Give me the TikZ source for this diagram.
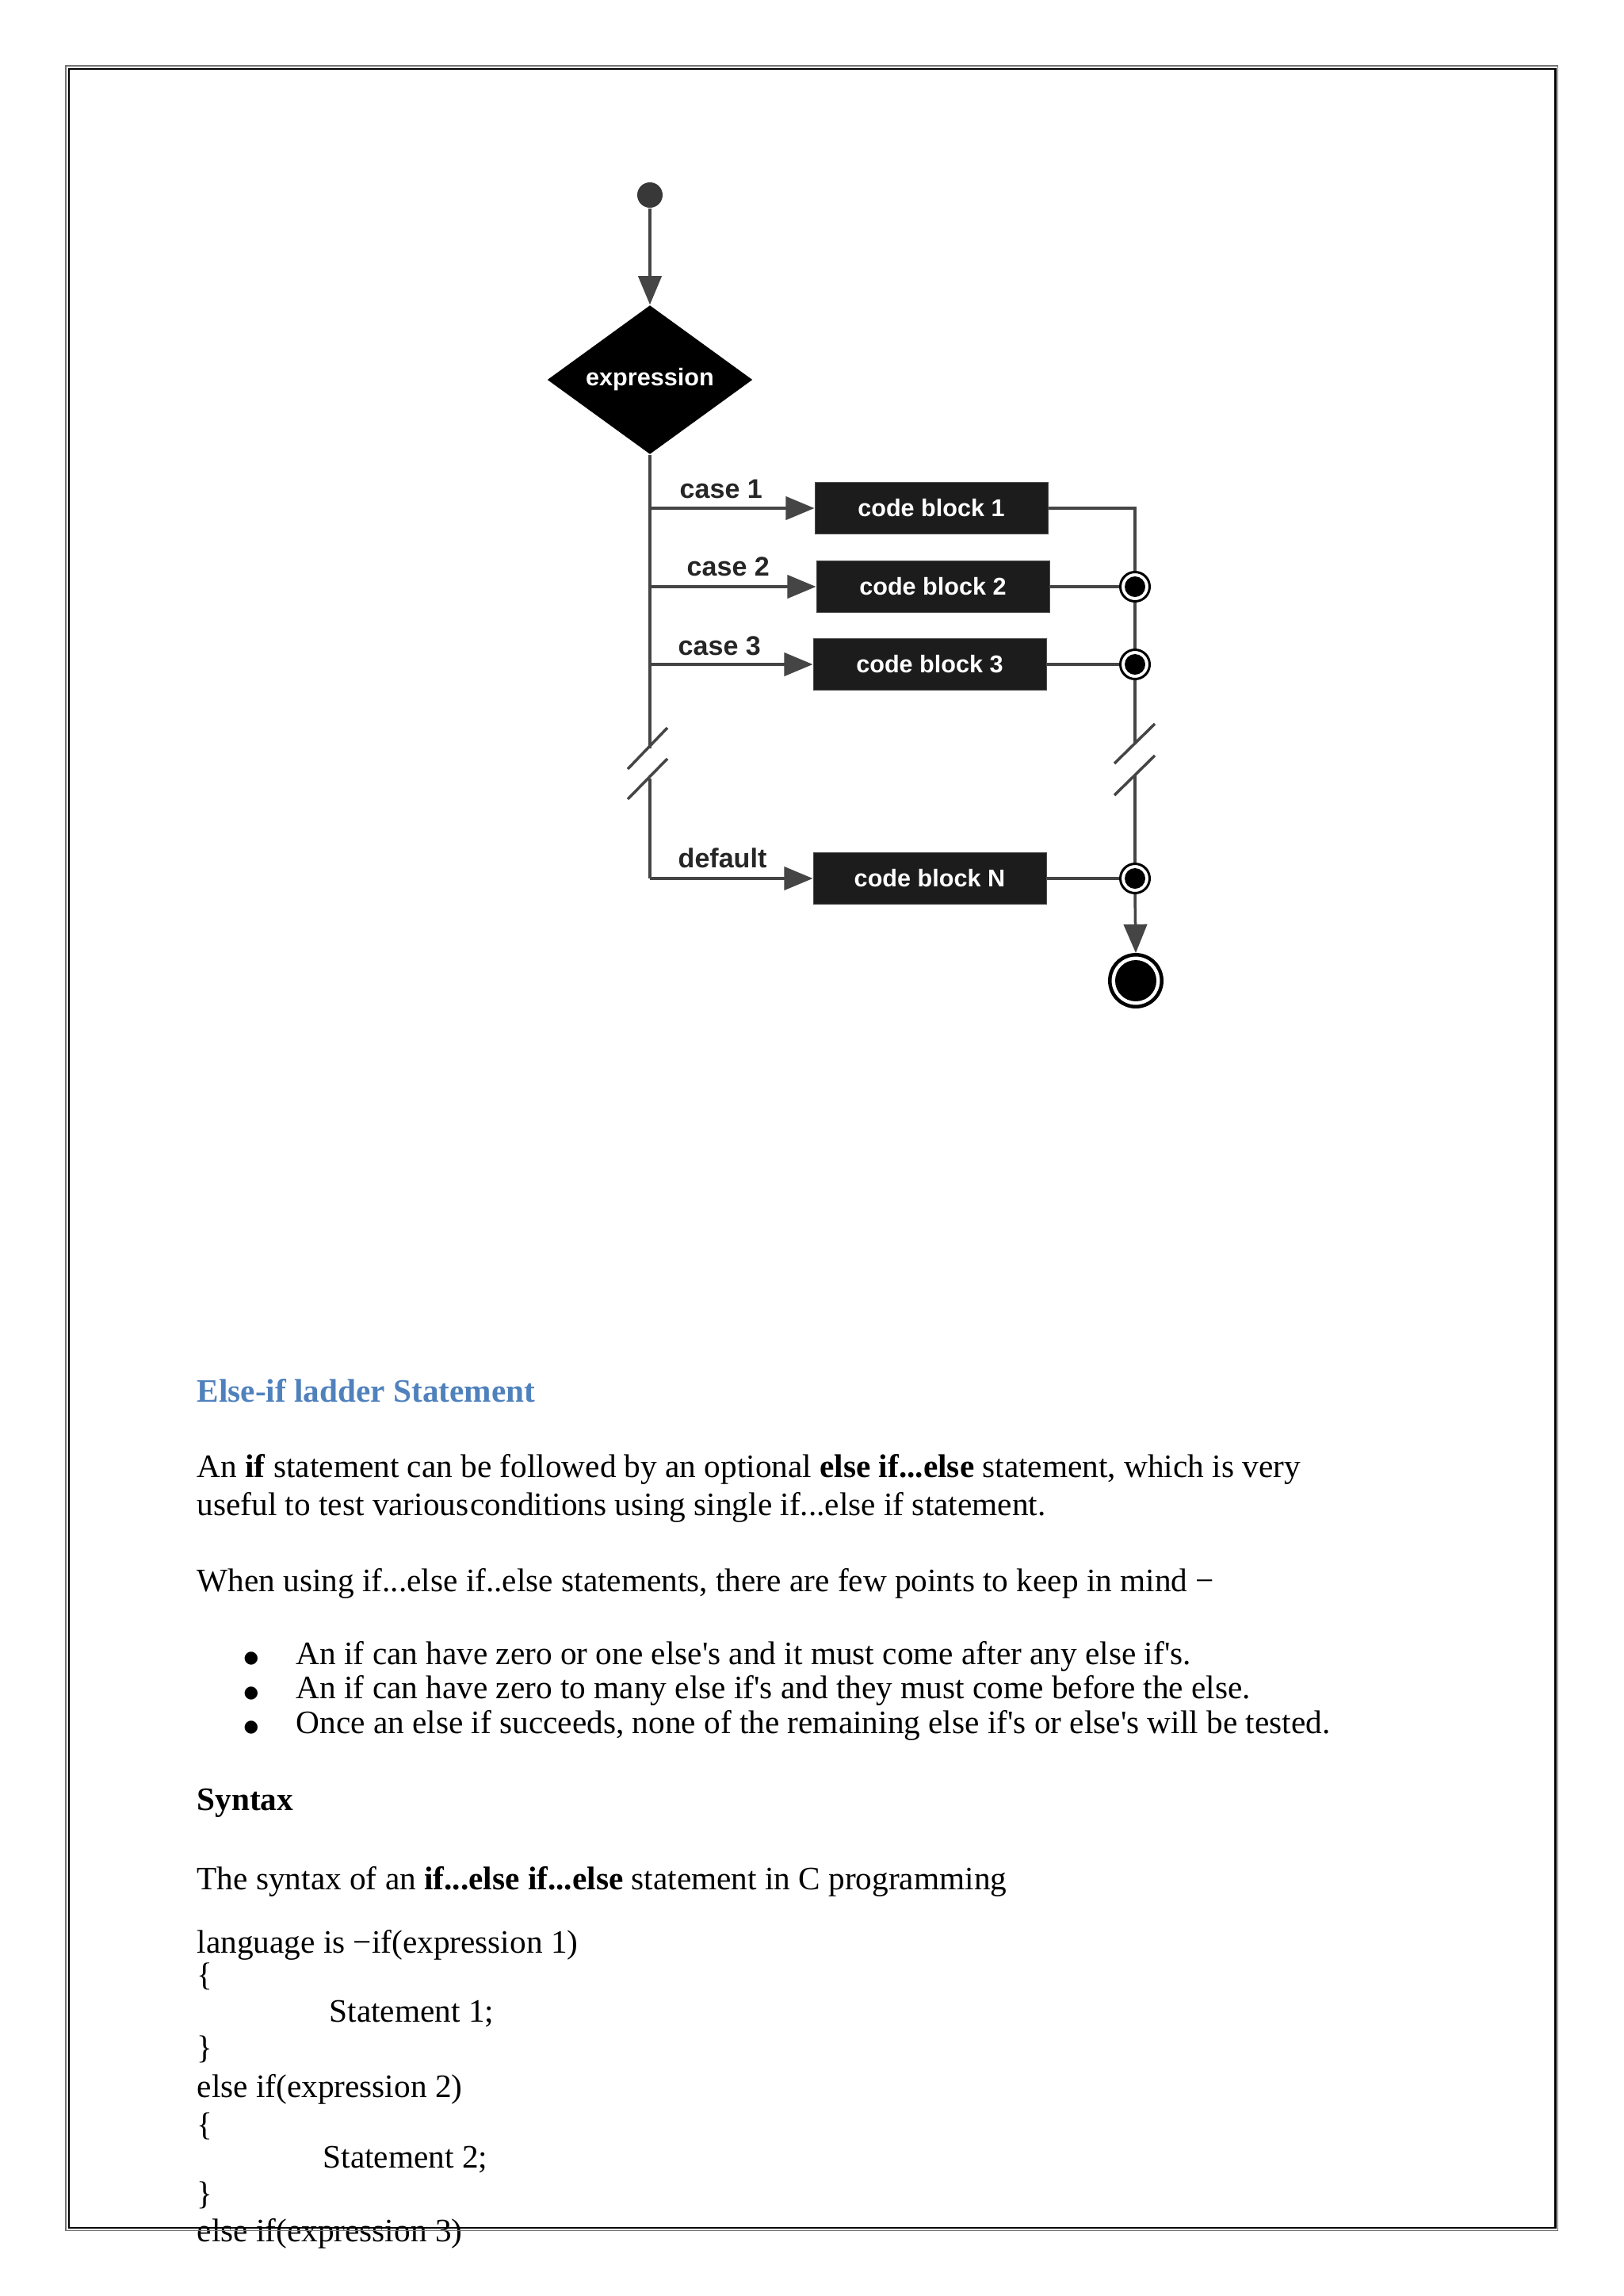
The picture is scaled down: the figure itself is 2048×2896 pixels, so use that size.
\documentclass[tikz,border=0pt]{standalone}
\usepackage{fontspec}
\setmainfont{Liberation Serif}[Ligatures=TeXOff]
\newfontfamily\arialf{Liberation Sans}
\newfontfamily\dejavuf{DejaVu Sans}
\usetikzlibrary{arrows.meta,shapes.geometric}
\newdimen\upx
\upx=0.290662pt
\definecolor{linegray}{HTML}{454545}
\definecolor{headblue}{HTML}{4F81BD}
\definecolor{boxfill}{HTML}{1C1C1C}
\definecolor{lblcol}{HTML}{262626}
\begin{document}
\begin{tikzpicture}[x=0.290662pt,y=-0.290662pt,
  conn/.style={draw=linegray, line width=3.5\upx},
  arr/.style={conn, -{Triangle[length=10.5pt,width=8.5pt]}, color=linegray},
  cblock/.style={rectangle, fill=boxfill, draw=black!70, line width=1\upx,
    minimum width=294\upx, minimum height=65\upx, inner sep=0pt,
    text=white, font=\arialf\bfseries\fontsize{8.9pt}{10pt}\selectfont},
  dia/.style={diamond, fill=black, aspect=1.378, minimum width=259\upx,
    minimum height=188\upx, inner sep=0pt, text=white,
    font=\arialf\bfseries\fontsize{8.9pt}{10pt}\selectfont},
  startdot/.style={circle, fill=black!78, minimum size=32\upx, inner sep=0pt},
  junc/.style={circle, draw=black, line width=3\upx, fill=white,
    minimum size=37\upx, inner sep=0pt,
    path picture={\fill[black] (path picture bounding box.center) circle (13\upx);}},
  endnode/.style={circle, draw=black, line width=4.5\upx, fill=white,
    minimum size=65.5\upx, inner sep=0pt,
    path picture={\fill[black] (path picture bounding box.center) circle (26\upx);}},
  lbl/.style={anchor=base west, inner sep=0pt, text=lblcol,
    font=\arialf\bfseries\fontsize{9.9pt}{11pt}\selectfont},
  body/.style={anchor=base west, inner sep=0pt, font=\fontsize{12pt}{13.8pt}\selectfont},
  bul/.style={anchor=center, inner sep=0pt, font=\dejavuf\fontsize{6.2pt}{7pt}\selectfont}
]
\useasboundingbox (0,0) rectangle (2048,2896);
\fill[white] (0,0) rectangle (2048,2896);

% ---------- flowchart ----------
\node[startdot] (start) at (820,246) {};
\node[dia] (expr) at (820,479) {expression};
\draw[arr] (start) -- (expr.north);

\node[cblock] (cb1) at (1175,641) {code block 1};
\node[cblock] (cb2) at (1177,740) {code block 2};
\node[cblock] (cb3) at (1173,838) {code block 3};
\node[cblock] (cbN) at (1173,1108) {code block N};

\coordinate (l1) at (820,641);
\coordinate (l2) at (820,740);
\coordinate (l3) at (820,838);
\coordinate (ltop) at (820,944);
\coordinate (lbot) at (820,982);
\coordinate (lN) at (820,1108);

\draw[conn] (expr.south) -- (ltop);
\draw[conn] (lbot) -- (lN);
\draw[arr] (l1) -- (cb1.west);
\draw[arr] (l2) -- (cb2.west);
\draw[arr] (l3) -- (cb3.west);
\draw[arr] (lN) -- (cbN.west);

\node[lbl] (c1) at (857,628) {case 1};
\node[lbl] (c2) at (866,726) {case 2};
\node[lbl] (c3) at (855,826) {case 3};
\node[lbl] (cd) at (855,1094) {default};

% break marks left
\draw[conn] (792,970) -- (842,918);
\draw[conn] (792,1008) -- (842,957);

% right side
\coordinate (r1) at (1432,641);
\node[junc] (j2) at (1432,740) {};
\node[junc] (j3) at (1432,838) {};
\node[junc] (jN) at (1432,1108) {};
\coordinate (rtop) at (1432,938);
\coordinate (rbot) at (1432,978);
\node[endnode] (fin) at (1433,1237) {};

\draw[conn] (cb1.east) -- (r1) -- (j2.north);
\draw[conn] (cb2.east) -- (j2.west);
\draw[conn] (j2.south) -- (j3.north);
\draw[conn] (cb3.east) -- (j3.west);
\draw[conn] (j3.south) -- (rtop);
\draw[conn] (rbot) -- (jN.north);
\draw[conn] (cbN.east) -- (jN.west);
\draw[arr] (jN.south) -- (fin.north);

% break marks right
\draw[conn] (1406,963) -- (1457,913);
\draw[conn] (1406,1003) -- (1457,953);

% ---------- text ----------
\node[body, text=headblue, font=\bfseries\fontsize{12pt}{13.8pt}\selectfont] (head) at (248,1768) {Else-if ladder Statement};
\node[body] (p1) at (248,1863) {An \textbf{if} statement can be followed by an optional \textbf{else if...else} statement, which is very};
\node[body] (p2) at (248,1911) {useful to test various\kern0.6ptconditions using single if...else if statement.};
\node[body] (p3) at (248,2007) {When using if...else if..else statements, there are few points to keep in mind −};

\node[bul] (b1) at (317,2092) {●};
\node[bul] (b2) at (317,2135.5) {●};
\node[bul] (b3) at (317,2179) {●};
\node[body] (t1) at (373,2099) {An if can have zero or one else's and it must come after any else if's.};
\node[body] (t2) at (373,2142.5) {An if can have zero to many else if's and they must come before the else.};
\node[body] (t3) at (373,2186) {Once an else if succeeds, none of the remaining else if's or else's will be tested.};

\node[body, font=\bfseries\fontsize{12pt}{13.8pt}\selectfont] (syn) at (248,2283) {Syntax};
\node[body] (s1) at (248,2383) {The syntax of an \textbf{if...else if...else} statement in C programming};

\node[body] (k1) at (248,2463) {language is −if(expression 1)};
\node[body] (k2) at (248,2504) {\{};
\node[body] (k3) at (415,2550) {Statement 1;};
\node[body] (k4) at (248,2596) {\}};
\node[body] (k5) at (248,2645) {else if(expression 2)};
\node[body] (k6) at (248,2693) {\{};
\node[body] (k7) at (407,2734) {Statement 2;};
\node[body] (k8) at (248,2780) {\}};
\node[body] (k9) at (248,2827) {else if(expression 3)};

% ---------- page frame ----------
\draw[draw=black!55, line width=1.6\upx] (83,83) rectangle (1965.6,2813.6);
\draw[draw=black, line width=2.4\upx] (87,87) rectangle (1962.3,2809.7);
\end{tikzpicture}
\end{document}
